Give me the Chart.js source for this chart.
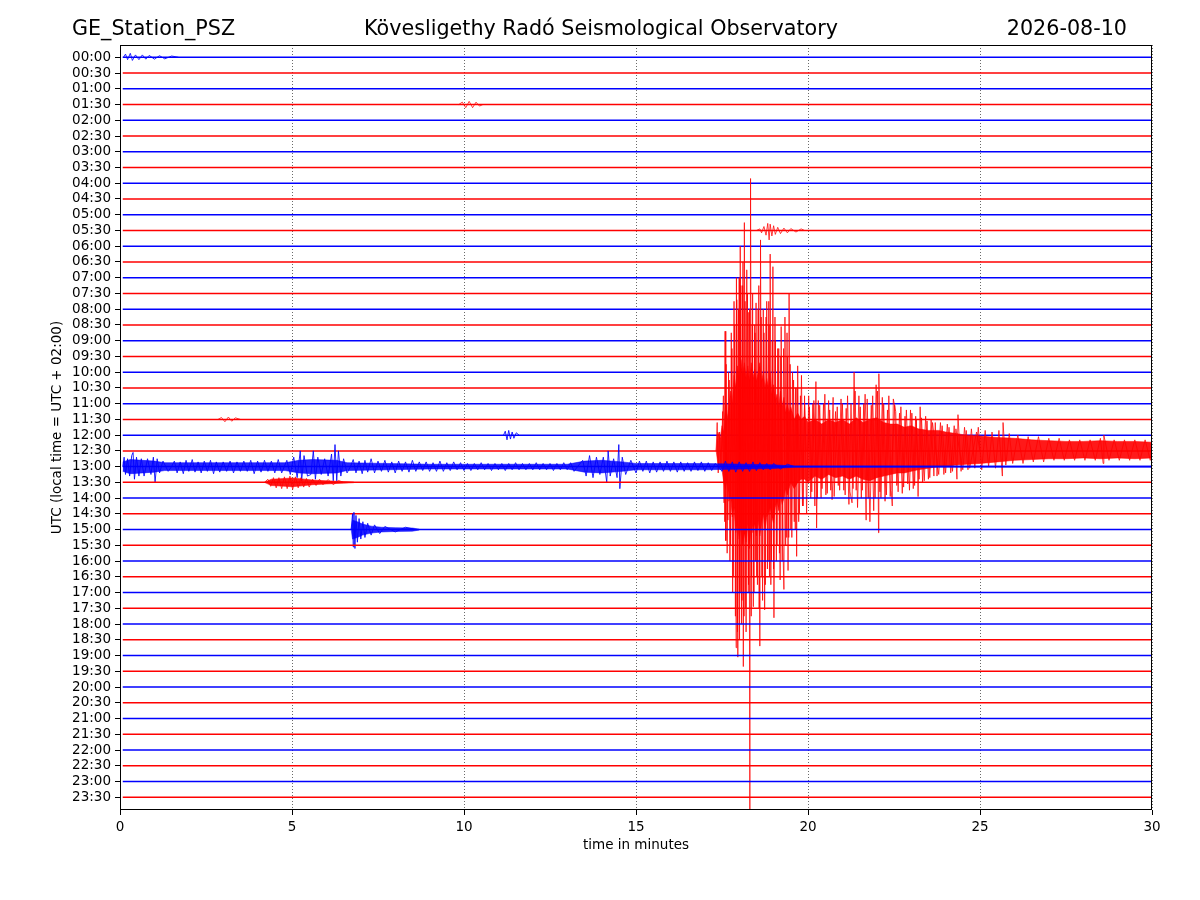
<!DOCTYPE html>
<html>
<head>
<meta charset="utf-8">
<script src="https://cdn.jsdelivr.net/npm/chart.js@4.4.1/dist/chart.umd.min.js"></script>
<style>html,body{margin:0;background:#fff;}</style>
</head>
<body>
<canvas id="heli" width="1200" height="900" style="width:1200px;height:900px"></canvas>
<script>
// trace labels, one per half hour (UTC)
const traceLabels = ['00:00','00:30','01:00','01:30','02:00','02:30','03:00','03:30','04:00','04:30',
  '05:00','05:30','06:00','06:30','07:00','07:30','08:00','08:30','09:00','09:30',
  '10:00','10:30','11:00','11:30','12:00','12:30','13:00','13:30','14:00','14:30',
  '15:00','15:30','16:00','16:30','17:00','17:30','18:00','18:30','19:00','19:30',
  '20:00','20:30','21:00','21:30','22:00','22:30','23:00','23:30'];
const xTicks = [0, 5, 10, 15, 20, 25, 30];

// big quake on the 12:30 trace: [minute, amplitude in trace spacings, + is up]
const quakeSpikes = [[17.33,0],[17.36,1.8],[17.39,-1.4],[17.43,1.2],[17.47,-1.0],[17.52,2.5],[17.56,-3.3],
  [17.59,7.6],[17.61,-5.7],[17.64,3.0],[17.67,-4.4],[17.71,4.5],[17.75,-6.0],[17.79,6.5],[17.83,-8.0],
  [17.87,8.0],[17.91,-12.5],[17.93,9.6],[17.96,-13.1],[18.0,11.0],[18.02,-9.0],[18.03,13.0],[18.07,-11.0],
  [18.1,10.5],[18.12,-13.7],[18.15,14.5],[18.19,-10.0],[18.22,11.5],[18.26,-9.0],[18.28,8.8],[18.31,-23.5],
  [18.33,17.3],[18.36,-8.0],[18.39,10.0],[18.41,-9.9],[18.45,8.0],[18.47,-7.0],[18.49,9.4],[18.53,-8.5],
  [18.57,10.5],[18.6,-12.4],[18.62,13.4],[18.66,-8.0],[18.7,9.0],[18.74,-10.1],[18.78,8.5],[18.82,-7.5],
  [18.86,9.5],[18.88,-8.0],[18.9,12.5],[18.94,-7.0],[18.98,11.7],[19.01,-10.6],[19.05,7.0],[19.1,-6.0],
  [19.15,6.5],[19.19,-8.2],[19.22,7.9],[19.27,-6.0],[19.3,-8.8],[19.33,8.5],[19.38,-5.5],[19.4,6.0],
  [19.42,-7.6],[19.45,10.0],[19.5,-5.0],[19.55,5.0],[19.6,-4.5],[19.64,4.0],[19.67,-6.7],[19.7,5.4],
  [19.75,-4.0],[19.81,4.8],[19.86,-3.5],[19.9,3.5],[19.96,-4.0],[20.02,3.5],[20.08,-3.0],[20.14,3.0],
  [20.2,-3.5],[20.23,4.4],[20.25,-4.9],[20.3,3.2],[20.38,-3.0],[20.45,3.0],[20.52,-2.8],[20.6,3.2],
  [20.66,-2.5],[20.73,3.4],[20.76,-2.9],[20.85,2.8],[20.92,-2.5],[21.0,3.0],[21.08,-2.8],[21.15,3.5],
  [21.22,-2.6],[21.28,-3.3],[21.34,5.0],[21.4,-2.5],[21.48,3.5],[21.55,-3.0],[21.62,3.0],[21.69,-4.4],
  [21.72,3.3],[21.8,-4.5],[21.88,3.5],[21.95,-3.0],[22.02,3.8],[22.05,-5.2],[22.06,4.9],[22.12,-3.0],
  [22.2,3.0],[22.28,-2.8],[22.35,3.5],[22.42,-2.5],[22.45,-3.5],[22.48,3.3],[22.55,2.5],[22.62,-2.6],
  [22.7,2.8],[22.78,-2.3],[22.86,2.6],[22.95,-2.5],[23.02,2.4],[23.1,-2.2],[23.15,2.0],[23.2,-2.9],
  [23.26,2.8],[23.33,-2.0],[23.42,2.2],[23.5,-1.8],[23.58,2.0],[23.66,-1.6],[23.7,1.8],[23.75,-1.6],
  [23.85,1.8],[23.95,-1.5],[24.05,1.7],[24.15,-1.4],[24.25,1.6],[24.33,-1.8],[24.36,2.3],[24.45,-1.3],
  [24.55,1.5],[24.65,-1.2],[24.75,1.4],[24.85,-1.1],[24.95,1.5],[25.05,-1.2],[25.15,1.3],[25.25,-1.0],
  [25.35,1.2],[25.45,-1.1],[25.55,1.3],[25.65,-1.6],[25.67,1.8],[25.75,-0.9],[25.85,1.1],[25.95,-0.8],
  [26.1,1.0],[26.25,-0.8],[26.4,0.9],[26.55,-0.7],[26.7,0.9],[26.85,-0.7],[27.0,0.8],[27.15,-0.6],
  [27.3,0.8],[27.45,-0.6],[27.6,0.7],[27.75,-0.6],[27.9,0.7],[28.05,-0.6],[28.2,0.7],[28.35,-0.6],
  [28.5,0.8],[28.58,-0.8],[28.6,1.0],[28.75,-0.6],[28.9,0.7],[29.05,-0.6],[29.2,0.7],[29.35,-0.6],
  [29.5,0.7],[29.65,-0.6],[29.8,0.7],[29.95,-0.6],[30,0]];
// second layer of quake swings, between the first ones
const quakeSpikesB = [[17.5,0],[17.54,3.5],[17.58,-4.5],[17.62,5.5],[17.65,-6.5],[17.69,5.0],[17.73,-7.0],
  [17.77,7.5],[17.81,-9.0],[17.85,9.5],[17.89,-10.5],[17.92,11.0],[17.95,-11.5],[17.98,9.0],[18.01,-12.0],
  [18.05,10.5],[18.08,-9.5],[18.11,12.0],[18.14,-10.5],[18.17,9.5],[18.2,-11.5],[18.24,10.0],[18.27,-8.5],
  [18.3,9.0],[18.35,-10.5],[18.38,8.0],[18.43,-9.0],[18.46,7.5],[18.51,-8.0],[18.55,9.0],[18.58,-10.0],
  [18.64,8.5],[18.68,-9.5],[18.72,7.5],[18.76,-8.5],[18.8,9.5],[18.84,-7.0],[18.87,8.0],[18.92,-8.5],
  [18.96,7.0],[19.0,-7.5],[19.04,8.5],[19.08,-7.0],[19.12,6.5],[19.17,-6.5],[19.21,6.0],[19.25,-7.0],
  [19.29,6.5],[19.35,-6.0],[19.39,7.5],[19.44,-5.5],[19.48,5.5],[19.53,-5.5],[19.58,4.5],[19.63,-5.0],
  [19.68,4.0],[19.73,-4.5],[19.78,3.5],[19.84,-3.5],[19.9,3.0],[19.95,0]];
const quakeSpikesC = [[20.0,0],[20.04,2.8],[20.11,-2.6],[20.17,3.2],[20.27,-3.0],[20.34,2.9],[20.41,-2.4],
  [20.49,3.6],[20.56,-2.7],[20.63,2.6],[20.7,-3.1],[20.8,2.5],[20.88,-2.2],[20.96,3.3],[21.04,-2.5],
  [21.11,2.7],[21.19,-3.4],[21.25,3.0],[21.31,-2.4],[21.37,3.8],[21.44,-3.6],[21.52,2.8],[21.58,-2.5],
  [21.66,3.6],[21.75,-3.0],[21.84,2.9],[21.91,-3.8],[21.98,4.2],[22.09,-2.6],[22.16,3.4],[22.24,-3.2],
  [22.31,2.6],[22.39,-2.9],[22.52,2.9],[22.58,-2.2],[22.66,2.4],[22.74,-2.7],[22.82,2.2],[22.9,-2.1],
  [22.98,2.6],[23.06,-2.4],[23.13,2.2],[23.23,-1.8],[23.3,2.1],[23.38,-1.9],[23.46,1.9],[23.54,-1.7],
  [23.62,1.8],[23.8,-1.5],[23.9,1.6],[24.0,-1.4],[24.1,1.5],[24.2,-1.3],[24.3,1.4],[24.5,-1.2],[24.6,1.3],
  [24.7,-1.1],[24.9,1.2],[25.0,0]];
// dense core of the quake: [minute, up, down]
const quakeCore = [[17.33,0,0],[17.38,1.2,0.8],[17.45,0.8,1.0],[17.5,1.6,1.2],[17.55,1.2,2.0],[17.6,3.0,2.4],
  [17.65,2.0,1.8],[17.7,2.8,3.2],[17.75,3.8,2.8],[17.8,3.0,4.2],[17.85,4.8,3.6],[17.9,4.0,5.2],[17.95,5.4,4.6],
  [18.0,4.6,5.6],[18.05,5.8,4.8],[18.1,4.8,6.0],[18.15,5.6,5.2],[18.2,4.6,5.8],[18.25,5.4,4.6],[18.3,4.4,6.2],
  [18.35,5.6,4.4],[18.4,4.6,5.2],[18.45,5.2,4.6],[18.5,4.4,5.4],[18.55,5.0,4.4],[18.6,5.6,5.4],[18.65,4.4,4.6],
  [18.7,5.0,4.0],[18.75,4.0,5.0],[18.8,4.6,4.2],[18.85,4.0,4.0],[18.9,5.0,3.6],[18.95,3.6,4.2],[19.0,4.2,4.6],
  [19.05,3.2,3.6],[19.1,3.6,3.2],[19.15,2.8,3.8],[19.2,3.8,2.8],[19.25,2.8,3.4],[19.3,3.4,3.0],[19.35,2.4,2.4],
  [19.4,3.0,2.8],[19.45,2.4,2.4],[19.5,2.8,2.0],[19.6,2.0,2.4],[19.7,2.4,2.0],[19.8,2.0,1.8],[19.9,2.2,1.8],
  [20.0,1.8,2.0],[20.2,2.0,1.6],[20.4,1.7,1.8],[20.6,2.0,1.5],[20.8,1.8,1.7],[21.0,2.0,1.6],[21.2,1.7,1.8],
  [21.4,2.1,1.6],[21.6,1.8,1.8],[21.8,2.0,1.9],[22.0,2.1,1.7],[22.2,1.8,1.6],[22.4,1.7,1.5],[22.6,1.7,1.4],
  [22.8,1.5,1.4],[23.0,1.6,1.3],[23.2,1.4,1.2],[23.5,1.3,1.1],[23.8,1.3,1.0],[24.0,1.2,1.0],[24.3,1.1,0.9],
  [24.6,1.0,0.85],[25.0,0.95,0.8],[25.5,0.85,0.7],[26.0,0.8,0.6],[26.5,0.7,0.55],[27.0,0.65,0.5],
  [27.5,0.6,0.5],[28.0,0.6,0.45],[28.5,0.65,0.5],[29.0,0.6,0.45],[29.5,0.6,0.5],[30.0,0.55,0.45]];

// noisy 13:00 trace
const noise1300 = [[0.08,0.3,0.3],[0.3,0.45,0.45],[1.0,0.35,0.35],[1.3,0.25,0.25],[4.8,0.25,0.25],
  [5.2,0.4,0.4],[5.6,0.45,0.45],[6.3,0.4,0.4],[6.6,0.25,0.25],[9,0.15,0.15],[13,0.15,0.15],[13.5,0.35,0.35],
  [14.0,0.4,0.4],[14.6,0.3,0.3],[15,0.2,0.2],[17,0.2,0.2],[19,0.12,0.12],[19.6,0.04,0.04],[30,0.04,0.04]];
const spikes1300 = [[0.08,0],[0.12,0.6],[0.16,-0.5],[0.22,0.5],[0.28,-0.6],[0.34,0.7],[0.38,0.9],[0.42,-0.8],
  [0.48,0.6],[0.55,-0.6],[0.62,0.5],[0.7,-0.6],[0.8,0.5],[0.9,-0.5],[0.97,0.6],[1.02,-1.0],[1.08,0.5],
  [1.15,-0.4],[1.25,0.35],[1.4,-0.3],[1.5,0],[1.58,0.35],[1.66,-0.4],[1.75,0.3],[1.84,-0.45],[1.92,0.4],
  [2.0,-0.3],[2.1,0.45],[2.18,-0.35],[2.27,0.3],[2.36,-0.4],[2.45,0.35],[2.54,-0.3],[2.63,0.4],[2.72,-0.45],
  [2.8,0.3],[2.9,-0.35],[3.0,0.3],[3.1,-0.3],[3.2,0.35],[3.3,-0.4],[3.4,0.3],[3.5,-0.3],[3.6,0.35],
  [3.7,-0.3],[3.8,0.4],[3.9,-0.45],[4.0,0.35],[4.1,-0.35],[4.2,0.4],[4.3,-0.3],[4.4,0.35],[4.5,-0.4],
  [4.6,0.45],[4.7,-0.4],[4.85,0.4],[4.95,-0.5],[5.05,0.6],[5.15,-0.7],
  [5.24,1.0],[5.28,-0.9],[5.35,0.7],[5.45,-0.6],[5.55,-0.5],[5.62,1.0],[5.68,-0.8],[5.75,0.6],[5.85,-0.5],
  [5.95,0.5],[6.05,-0.6],[6.15,0.8],[6.2,-0.9],[6.25,1.4],[6.3,-0.9],[6.35,1.0],[6.42,-0.6],[6.5,0.5],
  [6.6,-0.4],[6.7,0],[6.78,0.45],[6.86,-0.4],[6.95,0.35],[7.04,-0.45],[7.12,0.4],[7.2,-0.35],[7.3,0.5],
  [7.4,-0.4],[7.5,0.35],[7.6,-0.3],[7.7,0.4],[7.8,-0.35],[7.9,0.3],[8.0,-0.4],[8.1,0.35],[8.2,-0.3],
  [8.3,0.3],[8.4,-0.35],[8.5,0.4],[8.6,-0.3],[8.7,0.3],[8.8,-0.25],[8.9,0.3],[9.0,-0.3],[9.1,0.25],
  [9.2,-0.3],[9.3,0.35],[9.4,-0.3],[9.5,0.25],[9.6,-0.25],[9.7,0.3],[9.8,-0.2],[9.9,0.25],[10.0,-0.25],
  [10.1,0.2],[10.2,-0.25],[10.3,0.2],[10.4,-0.2],[10.5,0.25],[10.6,-0.2],[10.7,0.2],[10.8,-0.25],[10.9,0.2],
  [11.0,-0.2],[11.1,0.2],[11.2,-0.25],[11.3,0.2],[11.4,-0.2],[11.5,0.25],[11.6,-0.2],[11.7,0.2],[11.8,-0.2],
  [11.9,0.2],[12.0,-0.2],[12.1,0.25],[12.2,-0.2],[12.3,0.2],[12.4,-0.2],[12.5,0.2],[12.6,-0.25],[12.7,0.2],
  [12.8,-0.2],[12.9,0.25],[13.0,-0.2],[13.1,0.25],[13.2,-0.3],[13.3,0],[13.45,0.4],[13.55,-0.6],
  [13.65,0.7],[13.75,-0.7],[13.85,0.6],[13.95,-0.5],[14.05,0.6],[14.15,-1.0],[14.19,1.0],[14.25,-0.6],
  [14.35,0.5],[14.45,-0.7],[14.5,1.4],[14.53,-1.4],[14.6,0.6],[14.7,-0.5],[14.85,0.4],[15.0,-0.4],
  [15.1,0.35],[15.2,-0.3],[15.3,0.35],[15.4,-0.4],[15.5,0.3],[15.6,-0.35],[15.7,0.3],[15.8,-0.3],
  [15.9,0.35],[16.0,-0.3],[16.1,0.3],[16.2,-0.35],[16.3,0.3],[16.4,-0.3],[16.5,0.25],[16.6,-0.3],[16.7,0.3],
  [16.8,-0.25],[16.9,0.3],[17.0,-0.3],[17.1,0.25],[17.2,-0.25],[17.3,0.2],[17.4,0],[17.5,-0.3],[17.6,0.35],
  [17.7,-0.3],[17.8,0.3],[17.9,-0.35],[18.0,0.3],[18.1,-0.3],[18.2,0.25],[18.3,-0.3],[18.4,0.3],[18.5,-0.25],
  [18.6,0.25],[18.7,-0.2],[18.8,0.2],[18.9,-0.2],[19.0,0.2],[19.2,-0.15],[19.4,0.15],[19.6,0]];

// local event on the 15:00 trace
const event1500 = [[6.72,0,0],[6.76,0.6,0.6],[6.9,0.5,0.5],[7.05,0.35,0.35],[7.3,0.22,0.22],[7.6,0.15,0.15],
  [8.0,0.12,0.12],[8.5,0.1,0.1],[8.7,0.03,0.03]];
const spikes1500 = [[6.72,0],[6.76,1.0],[6.78,-1.1],[6.8,1.1],[6.83,-1.2],[6.86,0.9],[6.9,-0.8],[6.95,0.7],
  [7.0,-0.6],[7.06,0.5],[7.12,-0.5],[7.2,0.4],[7.3,-0.35],[7.4,0.3],[7.55,-0.25],[7.7,0.2],[8.0,-0.15],
  [8.3,0.15],[8.6,0]];

// small bursts on quiet traces
const burst1330 = [[4.2,0,0],[4.4,0.2,0.2],[4.8,0.25,0.25],[5.0,0.28,0.28],[5.3,0.22,0.22],[5.6,0.15,0.15],
  [6.0,0.1,0.1],[6.5,0.05,0.05],[6.8,0.02,0.02]];
const wiggle1330 = [[4.2,0],[4.3,0.2],[4.38,-0.25],[4.46,0.3],[4.54,-0.35],[4.62,0.3],[4.7,-0.4],[4.78,0.35],
  [4.86,-0.4],[4.94,0.4],[5.02,-0.45],[5.1,0.35],[5.18,-0.35],[5.26,0.3],[5.34,-0.3],[5.42,0.25],[5.5,-0.3],
  [5.6,0.2],[5.7,-0.2],[5.8,0.2],[5.9,-0.15],[6.05,0.18],[6.2,-0.15],[6.35,0.12],[6.5,0]];
const wiggle0530 = [[18.5,0],[18.6,0.1],[18.65,-0.15],[18.72,0.25],[18.78,-0.3],[18.83,0.45],[18.87,-0.6],
  [18.9,0.4],[18.95,-0.35],[19.0,0.3],[19.05,-0.25],[19.12,0.2],[19.2,-0.2],[19.3,0.15],[19.4,-0.15],
  [19.5,0.12],[19.65,-0.1],[19.8,0.1],[19.9,0]];
const wiggle1200 = [[11.15,0],[11.2,0.25],[11.25,-0.3],[11.3,0.3],[11.35,-0.25],[11.4,0.2],[11.45,-0.2],
  [11.52,0.15],[11.6,0]];
const wiggle0130 = [[9.85,0],[9.95,0.15],[10.05,-0.2],[10.15,0.2],[10.25,-0.2],[10.35,0.15],[10.45,-0.1],
  [10.55,0]];
const wiggle1130 = [[2.85,0],[2.95,0.12],[3.05,-0.15],[3.15,0.15],[3.25,-0.12],[3.35,0.1],[3.5,0]];
const wiggle0000 = [[0.1,0],[0.16,0.2],[0.22,-0.15],[0.3,0.25],[0.36,-0.2],[0.45,0.15],[0.55,-0.15],
  [0.65,0.15],[0.75,-0.12],[0.85,0.12],[1.0,-0.12],[1.15,0.1],[1.3,-0.1],[1.5,0.08],[1.7,0]];

const BLUE = '#0000ff', RED = '#ff0000';
const traceColor = i => (i % 2 === 0 ? BLUE : RED);
const fillColor = i => (i % 2 === 0 ? 'rgba(0,0,255,0.85)' : 'rgba(255,0,0,0.9)');
const lineColor = i => (i % 2 === 0 ? 'rgba(0,0,255,0.85)' : 'rgba(255,0,0,0.75)');

const bands = [
  {trace: 25, env: quakeCore},
  {trace: 26, env: noise1300},
  {trace: 30, env: event1500},
  {trace: 27, env: burst1330}
];
const wiggles = [
  {trace: 25, pts: quakeSpikes},
  {trace: 25, pts: quakeSpikesB},
  {trace: 25, pts: quakeSpikesC},
  {trace: 26, pts: spikes1300},
  {trace: 30, pts: spikes1500},
  {trace: 27, pts: wiggle1330},
  {trace: 11, pts: wiggle0530},
  {trace: 24, pts: wiggle1200},
  {trace: 3, pts: wiggle0130},
  {trace: 23, pts: wiggle1130},
  {trace: 0, pts: wiggle0000}
];

const datasets = [];
traceLabels.forEach((lab, i) => {
  datasets.push({
    data: [{x: 0.08, y: i}, {x: 30, y: i}],
    borderColor: traceColor(i), borderWidth: 1.5, pointRadius: 0, fill: false,
    order: 1000 - 10 * i + 5
  });
});
bands.forEach(b => {
  const i = b.trace;
  datasets.push({
    data: b.env.map(p => ({x: p[0], y: i - p[1]})),
    borderColor: fillColor(i), borderWidth: 0.6, pointRadius: 0, fill: false,
    order: 1000 - 10 * i + 3
  });
  datasets.push({
    data: b.env.map(p => ({x: p[0], y: i + p[2]})),
    borderColor: fillColor(i), borderWidth: 0.6, pointRadius: 0,
    fill: '-1', backgroundColor: fillColor(i),
    order: 1000 - 10 * i + 3
  });
});
wiggles.forEach(s => {
  const i = s.trace;
  datasets.push({
    data: s.pts.map(p => ({x: p[0], y: i - p[1]})),
    borderColor: lineColor(i), borderWidth: 1, pointRadius: 0, fill: false,
    order: 1000 - 10 * i + 1
  });
});

const FONT = '"DejaVu Sans", sans-serif';

const heliDecor = {
  id: 'heliDecor',
  beforeDraw(chart) {
    const ctx = chart.ctx;
    ctx.save();
    ctx.fillStyle = '#fff';
    ctx.fillRect(0, 0, chart.width, chart.height);
    ctx.restore();
  },
  afterDraw(chart) {
    const {ctx, chartArea: a} = chart;
    ctx.save();
    ctx.strokeStyle = '#000';
    ctx.lineWidth = 1;
    ctx.strokeRect(Math.round(a.left) + 0.5, Math.round(a.top) + 0.5,
      Math.round(a.right - a.left) - 1, Math.round(a.bottom - a.top) - 1);

    ctx.fillStyle = '#000';
    ctx.textBaseline = 'alphabetic';
    ctx.font = '20.7px ' + FONT;
    ctx.textAlign = 'left';
    ctx.fillText('GE_Station_PSZ', 72, 35);
    ctx.textAlign = 'center';
    ctx.fillText('Kövesligethy Radó Seismological Observatory', 601, 35);
    ctx.textAlign = 'right';
    ctx.fillText('2026-08-10', 1127, 35);

    ctx.font = '13.5px ' + FONT;
    ctx.textAlign = 'center';
    ctx.textBaseline = 'middle';
    ctx.fillText('time in minutes', (a.left + a.right) / 2, 845);
    ctx.translate(57, (a.top + a.bottom) / 2);
    ctx.rotate(-Math.PI / 2);
    ctx.fillText('UTC (local time = UTC + 02:00)', 0, 0);
    ctx.restore();
  }
};

new Chart(document.getElementById('heli'), {
  type: 'line',
  data: {datasets},
  options: {
    responsive: false,
    animation: false,
    events: [],
    layout: {padding: {top: 45, right: 48, left: 0, bottom: 0}},
    plugins: {legend: {display: false}, tooltip: {enabled: false}, title: {display: false},
      filler: {propagate: false}},
    scales: {
      x: {
        type: 'linear', min: 0, max: 30,
        afterBuildTicks: s => { s.ticks = xTicks.map(v => ({value: v})); },
        afterFit: s => { s.height = 90; },
        ticks: {font: {family: FONT, size: 13.5}, color: '#000', padding: 4, maxRotation: 0},
        grid: {color: '#444', lineWidth: 0.8, tickLength: 5, tickColor: '#000', tickWidth: 1},
        border: {display: false, dash: [1, 2]}
      },
      y: {
        type: 'linear', reverse: true, min: -0.78, max: 47.81,
        afterBuildTicks: s => { s.ticks = traceLabels.map((l, i) => ({value: i})); },
        afterFit: s => { s.width = 120; },
        ticks: {font: {family: FONT, size: 13.5}, color: '#000', padding: 4, autoSkip: false,
          callback: v => traceLabels[v]},
        grid: {drawOnChartArea: false, tickLength: 5, color: '#000', tickWidth: 1},
        border: {display: false}
      }
    }
  },
  plugins: [heliDecor]
});
</script>
</body>
</html>
